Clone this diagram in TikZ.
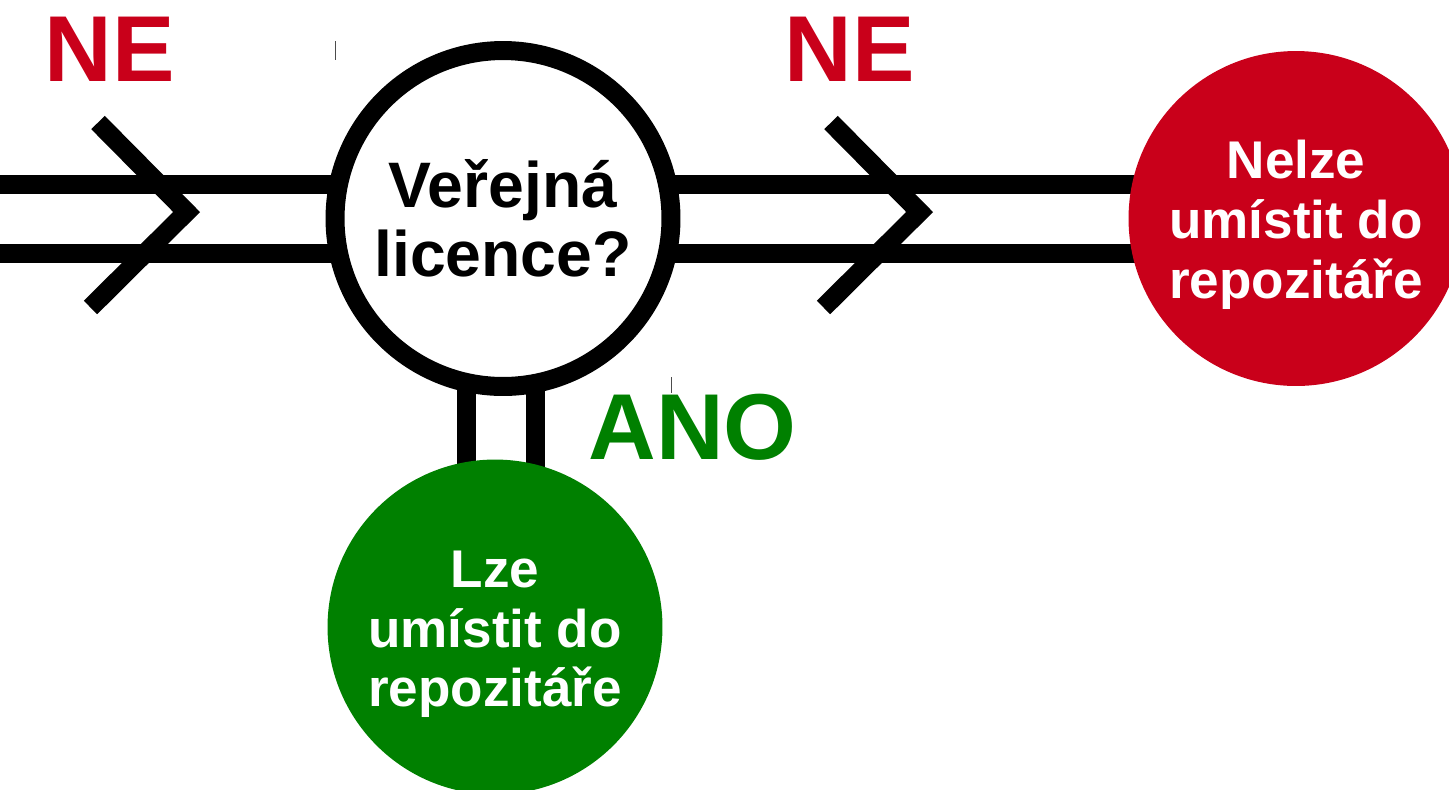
\documentclass[tikz,border=0pt]{standalone}
\usepackage{fontspec}
\setmainfont{Liberation Sans}
\usetikzlibrary{backgrounds}
\definecolor{nered}{RGB}{201,0,26}
\definecolor{anogreen}{RGB}{0,128,0}
\newcommand{\topstrut}{\rule{0pt}{1.02cm}}

\begin{document}
\begin{tikzpicture}
[x=0.02cm,y=-0.02cm]
\tikzstyle{pipe}=[line width=0.38cm]
\tikzstyle{question node}=[circle,draw,fill=white,line width=0.38cm,minimum size=6.72cm,inner sep=0,align=center,font=\bfseries\fontsize{36.6}{39.3}\selectfont]
\tikzstyle{answer node}=[circle,minimum size=6.7cm,inner sep=0,align=center,text=white,font=\bfseries\fontsize{30.2}{34.1}\selectfont]
\tikzstyle{big label}=[anchor=base,inner sep=0,font=\bfseries\fontsize{53.3}{60}\selectfont]

\useasboundingbox(0,0)rectangle(1449,789);
\clip(0,0)rectangle(1449,789);

\node(otazka)[question node]at(503,218.5){Veřejná\\licence?};
\node(nelze)[answer node,fill=nered]at(1296,218.5){\topstrut Nelze\\umístit do\\repozitáře};
\node(lze)[answer node,fill=anogreen]at(495,627){\topstrut Lze\\umístit do\\repozitáře};
\coordinate(vstup1)at(0,184.5);
\coordinate(vstup2)at(0,253);

\begin{scope}[on background layer]
\foreach \r in {vstup1,vstup2}{
  \draw[pipe](\r)--(\r-|otazka.center);
  \draw[pipe](\r-|otazka.center)--(\r-|nelze.center);
}
\draw[pipe]([xshift=-0.74cm]otazka.center)--([xshift=-0.74cm]otazka.center|-lze.center);
\draw[pipe]([xshift=0.64cm]otazka.center)--([xshift=0.64cm]otazka.center|-lze.center);
\end{scope}

\foreach \dx in {0,733}
  \draw[pipe](98+\dx,122.5)--(186.6+\dx,212)--(90.5+\dx,307.5);

\node(ne1)[big label,text=nered]at(110,81){NE};
\node(ne2)[big label,text=nered]at(849.5,81){NE};
\node(ano)[big label,text=anogreen]at(692.5,459){ANO};

\draw[line width=0.02cm,black!70](335,41)--(335,60);
\draw[line width=0.02cm,black!70](671.5,377)--(671.5,393);
\end{tikzpicture}
\end{document}
